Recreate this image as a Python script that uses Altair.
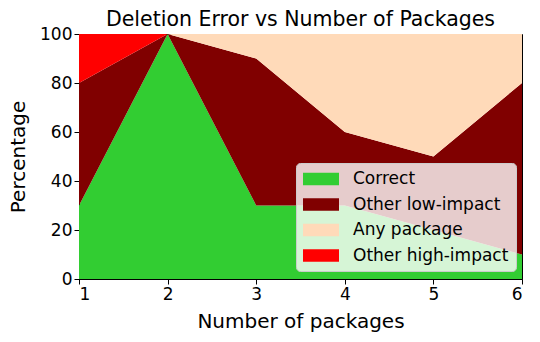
import altair as alt
import pandas as pd

packages = [1, 2, 3, 4, 5, 6]
categories = ["Correct", "Other low-impact", "Any package", "Other high-impact"]
colors = ["#32CD32", "#800000", "#FFDAB9", "#FF0000"]
correct = [30, 100, 30, 30, 20, 10]
low_impact = [50, 0, 60, 30, 30, 70]
any_package = [0, 0, 10, 40, 50, 20]
high_impact = [20, 0, 0, 0, 0, 0]

series = [correct, low_impact, any_package, high_impact]
rows = []
for ci, (cat, vals) in enumerate(zip(categories, series)):
    for x, v in zip(packages, vals):
        rows.append({"n": x, "cat": cat, "val": v, "ord": ci})
df = pd.DataFrame(rows)

FONT = "DejaVu Sans"

chart = alt.Chart(df).mark_area(interpolate="linear").encode(
    x=alt.X("n:Q", title="Number of packages",
            scale=alt.Scale(domain=[1, 6], nice=False, zero=False),
            axis=alt.Axis(values=packages, format="d", grid=False, titlePadding=9)),
    y=alt.Y("val:Q", title="Percentage", stack="zero",
            scale=alt.Scale(domain=[0, 100], nice=False),
            axis=alt.Axis(values=[0, 20, 40, 60, 80, 100], grid=False, titlePadding=11)),
    color=alt.Color("cat:N", scale=alt.Scale(domain=categories, range=colors),
                    legend=alt.Legend(title=None, orient="none", legendX=217, legendY=129,
                                      fillColor="rgba(255,255,255,0.8)", strokeColor="#cccccc",
                                      cornerRadius=4, padding=7,
                                      symbolType="M-1,-0.7H3V0.7H-1Z", symbolSize=324,
                                      symbolStrokeWidth=0, symbolOpacity=1,
                                      labelFont=FONT, labelFontSize=17, labelColor="black",
                                      rowPadding=8.5, labelOffset=32)),
    order=alt.Order("ord:Q"),
).properties(
    width=443, height=245,
    title=alt.TitleParams("Deletion Error vs Number of Packages", font=FONT, fontSize=20.5,
                          fontWeight="normal", color="black", offset=-5),
    autosize=alt.AutoSizeParams(type="none"),
    padding={"left": 71, "top": 26, "right": 10, "bottom": 55},
).configure_view(
    stroke="black", strokeWidth=1
).configure_axis(
    labelFont=FONT, labelFontSize=17, labelColor="black",
    titleFont=FONT, titleFontSize=20, titleFontWeight="normal", titleColor="black",
    domainColor="black", tickColor="black", tickSize=5, labelPadding=2,
)

chart.save("out.html", embed_options={"renderer": "svg", "actions": False})
